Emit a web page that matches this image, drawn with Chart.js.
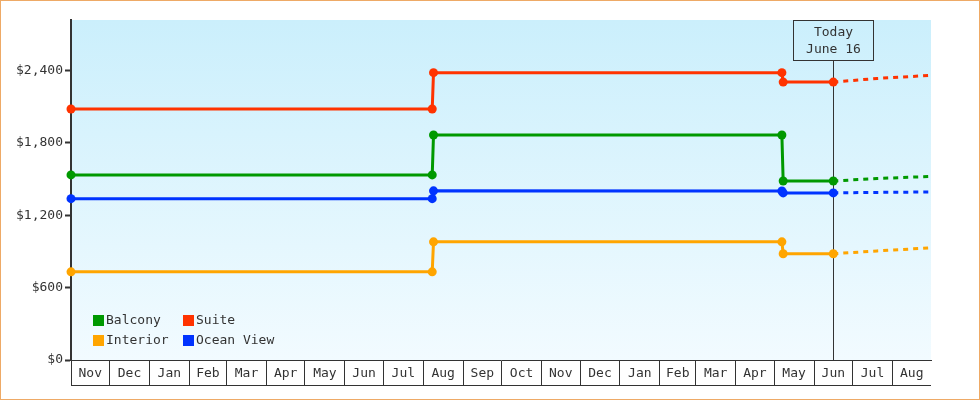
<!DOCTYPE html>
<html>
<head>
<meta charset="utf-8">
<title>Cabin prices</title>
<script src="https://cdn.jsdelivr.net/npm/chart.js@4.4.1/dist/chart.umd.min.js"></script>
<style>
  html, body { margin: 0; padding: 0; background: #fff; }
  #wrap { position: relative; width: 980px; height: 400px; }
  #frame { position: absolute; left: 0; top: 0; width: 980px; height: 400px;
           box-sizing: border-box; border: 1px solid #eeaa66; pointer-events: none; }
</style>
</head>
<body>
<div id="wrap">
  <canvas id="priceChart" width="980" height="400"></canvas>
  <div id="frame"></div>
</div>
<script>
// Fare history, values. Last two dates are the projection.
const dates = ['2011-11-01', '2012-08-08', '2012-08-09', '2013-05-07', '2013-05-08', '2013-06-16', '2013-07-20', '2013-08-31'];
const balcony = [1535, 1535, 1866, 1866, 1485, 1485, 1505, 1523];
const suite = [2082, 2082, 2383, 2383, 2305, 2305, 2335, 2361];
const interior = [731, 731, 980, 980, 881, 881, 905, 930];
const oceanView = [1338, 1338, 1403, 1402, 1386, 1386, 1390, 1394];

const today = '2013-06-16';
const todayLabel = ['Today', 'June 16'];
const axisStart = '2011-11-01';
const axisEnd = '2013-08-31';
const months = ['Nov', 'Dec', 'Jan', 'Feb', 'Mar', 'Apr', 'May', 'Jun', 'Jul', 'Aug', 'Sep', 'Oct',
                'Nov', 'Dec', 'Jan', 'Feb', 'Mar', 'Apr', 'May', 'Jun', 'Jul', 'Aug'];
const yTicks = [0, 600, 1200, 1800, 2400];
const yMax = 2820;

const FONT = { family: "'DejaVu Sans Mono', monospace", size: 13 };
const INK = '#333';

// day number counted from the first day on the axis
function dayOf(str) {
    const p = str.split('-').map(Number);
    const s = axisStart.split('-').map(Number);
    return (Date.UTC(p[0], p[1] - 1, p[2]) - Date.UTC(s[0], s[1] - 1, s[2])) / 864e5;
}

const todayDay = dayOf(today);
const endDay = dayOf(axisEnd);

// month boundaries plus a tick in the middle of each month for the label
const xTicks = [];
(function () {
    const s = axisStart.split('-').map(Number);
    for (let i = 0; i < months.length; i++) {
        const a = dayOf(new Date(Date.UTC(s[0], s[1] - 1 + i, 1)).toISOString().slice(0, 10));
        const b = i < months.length - 1
            ? dayOf(new Date(Date.UTC(s[0], s[1] + i, 1)).toISOString().slice(0, 10))
            : endDay;
        xTicks.push(a, (a + b) / 2);
    }
    xTicks.push(endDay);
})();

function series(label, values, color) {
    return {
        label: label,
        data: values.map((v, i) => ({ x: dayOf(dates[i]), y: v })),
        borderColor: color,
        backgroundColor: color,
        borderWidth: 3,
        tension: 0,
        clip: false,
        pointRadius: ctx => (ctx.raw && ctx.raw.x > todayDay ? 0 : 4.5),
        pointBorderWidth: 0,
        pointBackgroundColor: color,
        segment: {
            borderDash: ctx => (ctx.p0.parsed.x >= todayDay ? [5, 5] : undefined)
        }
    };
}

// light blue gradient behind the plot
const backdrop = {
    id: 'backdrop',
    beforeDraw(chart) {
        const { ctx, chartArea: a } = chart;
        const g = ctx.createLinearGradient(0, a.top, 0, a.bottom);
        g.addColorStop(0, '#cbeffc');
        g.addColorStop(1, '#f2fbff');
        ctx.save();
        ctx.fillStyle = g;
        ctx.fillRect(a.left, a.top, a.right - a.left, a.bottom - a.top);
        ctx.restore();
    },
    afterDraw(chart) {
        // bottom edge of the month cells
        const { ctx, chartArea: a } = chart;
        ctx.save();
        ctx.strokeStyle = INK;
        ctx.lineWidth = 1;
        ctx.beginPath();
        ctx.moveTo(a.left, 385.5);
        ctx.lineTo(a.right, 385.5);
        ctx.stroke();
        ctx.restore();
    }
};

// "Today" marker line and box
const todayMarker = {
    id: 'todayMarker',
    beforeDatasetsDraw(chart) {
        const { ctx, chartArea: a, scales } = chart;
        const x = Math.round(scales.x.getPixelForValue(todayDay)) + 0.5;
        const top = a.top + 0.5, h = 40, w = 80;
        ctx.save();
        ctx.strokeStyle = INK;
        ctx.lineWidth = 1;
        ctx.beginPath();
        ctx.moveTo(x, top + h);
        ctx.lineTo(x, a.bottom);
        ctx.stroke();
        ctx.strokeRect(x - w / 2, top, w, h);
        ctx.fillStyle = INK;
        ctx.font = FONT.size + 'px ' + FONT.family;
        ctx.textAlign = 'center';
        ctx.textBaseline = 'middle';
        ctx.fillText(todayLabel[0], x, top + 12);
        ctx.fillText(todayLabel[1], x, top + 29);
        ctx.restore();
    }
};

// two-column legend in the lower left of the plot
const boxLegend = {
    id: 'boxLegend',
    afterDatasetsDraw(chart) {
        const { ctx, chartArea: a } = chart;
        ctx.save();
        ctx.font = FONT.size + 'px ' + FONT.family;
        ctx.textAlign = 'left';
        ctx.textBaseline = 'middle';
        chart.data.datasets.forEach((ds, i) => {
            const bx = a.left + 22 + (i % 2) * 90;
            const by = a.bottom - 45 + Math.floor(i / 2) * 20;
            ctx.fillStyle = ds.borderColor;
            ctx.fillRect(bx, by, 11, 11);
            ctx.fillStyle = INK;
            ctx.fillText(ds.label, bx + 13, by + 6);
        });
        ctx.restore();
    }
};

new Chart('priceChart', {
    type: 'line',
    data: {
        datasets: [
            series('Balcony', balcony, '#009900'),
            series('Suite', suite, '#ff3300'),
            series('Interior', interior, '#ffa500'),
            series('Ocean View', oceanView, '#0033ff')
        ]
    },
    options: {
        responsive: false,
        animation: false,
        events: [],
        layout: { padding: { top: 20, right: 49, left: 0, bottom: 0 } },
        plugins: {
            legend: { display: false },
            tooltip: { enabled: false }
        },
        scales: {
            x: {
                type: 'linear',
                min: 0,
                max: endDay,
                afterBuildTicks: scale => { scale.ticks = xTicks.map(v => ({ value: v })); },
                afterFit: scale => { scale.height = 40; },
                border: { display: true, color: INK, width: 1 },
                grid: {
                    drawOnChartArea: false,
                    tickLength: 25,
                    tickWidth: 1,
                    tickColor: ctx => (ctx.index % 2 === 0 && ctx.index < xTicks.length - 1 ? INK : 'rgba(0,0,0,0)')
                },
                ticks: {
                    autoSkip: false,
                    maxRotation: 0,
                    padding: -19.5,
                    color: INK,
                    font: FONT,
                    callback: (value, index) => (index % 2 === 1 ? months[(index - 1) / 2] : '')
                }
            },
            y: {
                min: 0,
                max: yMax,
                afterBuildTicks: scale => { scale.ticks = yTicks.map(v => ({ value: v })); },
                afterFit: scale => { scale.width = 71; },
                border: { display: true, color: INK, width: 2 },
                grid: {
                    drawOnChartArea: false,
                    tickLength: 6,
                    tickWidth: 2,
                    tickColor: INK
                },
                ticks: {
                    padding: 2,
                    color: INK,
                    font: FONT,
                    callback: v => '$' + v.toLocaleString('en-US')
                }
            }
        }
    },
    plugins: [backdrop, todayMarker, boxLegend]
});
</script>
</body>
</html>
